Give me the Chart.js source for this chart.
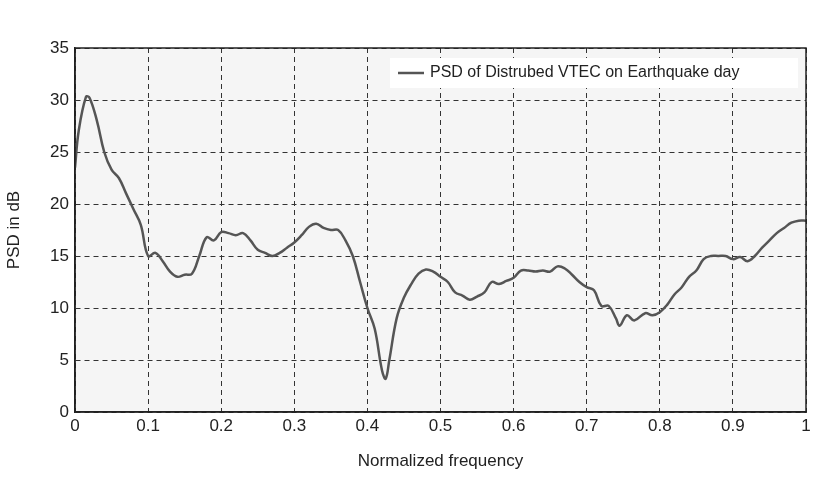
<!DOCTYPE html>
<html><head><meta charset="utf-8">
<script src="https://cdn.jsdelivr.net/npm/chart.js@4"></script>
<style>body{margin:0;background:#fff}#wrap{width:820px;height:488px}</style>
</head><body><div id="wrap"><canvas id="c"></canvas></div>
<script>
// PSD curve
const freq = [0,0.005,0.015,0.02,0.03,0.04,0.05,0.06,0.07,0.08,0.09,0.1,0.11,0.12,0.13,0.14,0.15,0.16,0.17,0.18,0.19,0.2,0.21,0.22,0.23,0.24,0.25,0.26,0.27,0.28,0.29,0.3,0.31,0.32,0.33,0.34,0.35,0.36,0.37,0.38,0.39,0.4,0.41,0.42,0.425,0.43,0.44,0.45,0.46,0.47,0.48,0.49,0.5,0.51,0.52,0.53,0.54,0.55,0.56,0.57,0.58,0.59,0.6,0.61,0.62,0.63,0.64,0.65,0.66,0.67,0.68,0.69,0.7,0.71,0.72,0.73,0.74,0.745,0.755,0.765,0.78,0.79,0.8,0.81,0.82,0.83,0.84,0.85,0.86,0.87,0.88,0.89,0.9,0.91,0.92,0.93,0.94,0.95,0.96,0.97,0.98,0.99,1];
const psd = [23.5,27,30.3,30.2,28,25,23.3,22.5,21,19.5,18,15,15.3,14.5,13.5,13,13.2,13.3,15,16.8,16.5,17.3,17.2,17,17.2,16.5,15.6,15.3,15,15.3,15.8,16.3,17,17.8,18.1,17.7,17.5,17.5,16.5,15,12.5,10,8,4,3.2,5,9,11,12.3,13.3,13.7,13.5,13,12.5,11.5,11.2,10.8,11.1,11.5,12.5,12.3,12.6,12.9,13.6,13.6,13.5,13.6,13.5,14,13.8,13.2,12.5,12,11.7,10.2,10.2,9,8.3,9.3,8.8,9.5,9.3,9.6,10.3,11.3,12,13,13.6,14.7,15,15,15,14.7,14.9,14.5,15,15.8,16.5,17.2,17.7,18.2,18.4,18.4];
const legendLabel = 'PSD of Distrubed VTEC on Earthquake day';

const font = {family: 'Liberation Sans, Arial', size: 17};

const bgAndLegend = {
  id: 'bgAndLegend',
  beforeDraw(chart) {
    const {ctx, chartArea: a} = chart;
    ctx.save();
    ctx.fillStyle = '#f5f5f5';
    ctx.fillRect(a.left, a.top, a.right - a.left, a.bottom - a.top);
    ctx.restore();
  },
  afterDraw(chart) {
    const {ctx, chartArea: a} = chart;
    ctx.save();
    ctx.strokeStyle = '#222';
    ctx.lineWidth = 1.5;
    ctx.strokeRect(a.left, a.top, a.right - a.left, a.bottom - a.top);
    ctx.fillStyle = '#fff';
    ctx.fillRect(a.right - 416, a.top + 10, 408, 30);
    ctx.strokeStyle = '#555';
    ctx.lineWidth = 2.5;
    ctx.beginPath();
    ctx.moveTo(a.right - 408, a.top + 25);
    ctx.lineTo(a.right - 382, a.top + 25);
    ctx.stroke();
    ctx.fillStyle = '#222';
    ctx.font = '16px Liberation Sans, Arial';
    ctx.textBaseline = 'middle';
    ctx.fillText(legendLabel, a.right - 376, a.top + 25);
    ctx.restore();
  }
};

new Chart(document.getElementById('c'), {
  type: 'line',
  data: {
    datasets: [{
      label: legendLabel,
      data: freq.map((f, i) => ({x: f, y: psd[i]})),
      borderColor: '#555',
      borderWidth: 2.5,
      pointRadius: 0,
      tension: 0.4,
      fill: false
    }]
  },
  options: {
    responsive: true,
    maintainAspectRatio: false,
    animation: false,
    layout: {padding: {top: 48, right: 14, left: 0, bottom: 12}},
    plugins: {legend: {display: false}, tooltip: {enabled: false}},
    scales: {
      x: {
        type: 'linear', min: 0, max: 1,
        ticks: {stepSize: 0.1, color: '#222', font, padding: 4, callback: v => String(Math.round(v * 10) / 10)},
        grid: {color: '#333', tickLength: 0},
        border: {color: '#222', width: 1.5, dash: [5, 4]},
        title: {display: true, text: 'Normalized frequency', color: '#222', font, padding: {top: 2}},
        afterFit(s) { s.height = 64; }
      },
      y: {
        min: 0, max: 35,
        ticks: {stepSize: 5, color: '#222', font, padding: 6},
        grid: {color: '#333', tickLength: 0},
        border: {color: '#222', width: 1.5, dash: [5, 4]},
        title: {display: true, text: 'PSD in dB', color: '#222', font},
        afterFit(s) { s.width = 75; }
      }
    }
  },
  plugins: [bgAndLegend]
});
</script></body></html>
